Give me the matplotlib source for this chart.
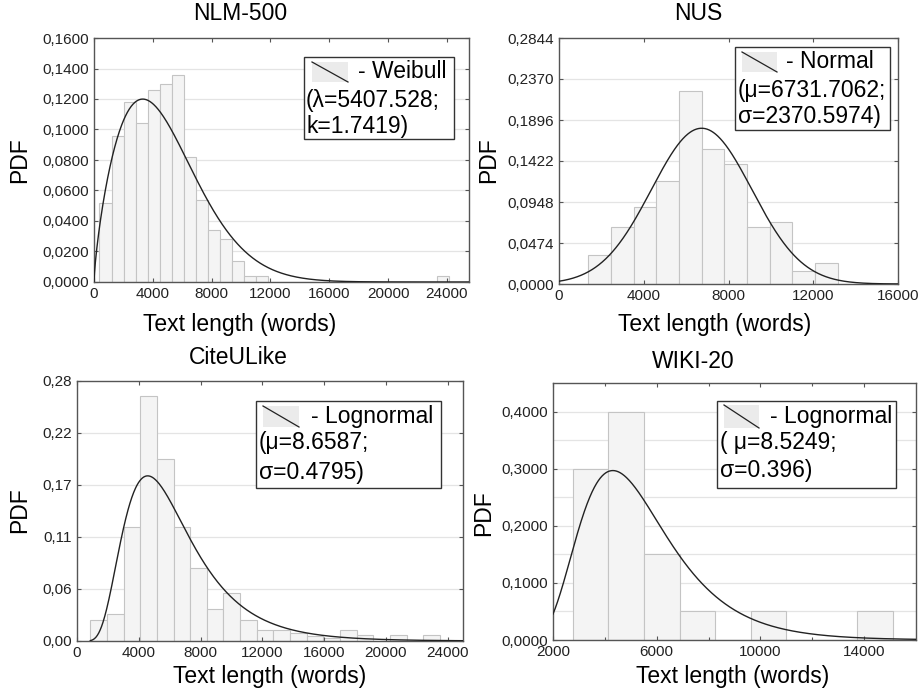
import matplotlib
matplotlib.use("Agg")
import matplotlib.pyplot as plt
from matplotlib.patches import Rectangle
from matplotlib.lines import Line2D
import numpy as np

plt.rcParams['font.family'] = ['Liberation Sans', 'DejaVu Sans']

# ---- data ----
# NLM-500 (Weibull fit), histogram heights per bin
nlm_bin_start = 371
nlm_bin_width = 820
nlm_heights = [0.052, 0.096, 0.118, 0.104, 0.126, 0.130, 0.136, 0.082, 0.054,
               0.034, 0.028, 0.014, 0.004, 0.004, 0, 0, 0, 0, 0, 0, 0, 0, 0,
               0, 0, 0, 0, 0, 0.004]
nlm_lambda = 5407.528
nlm_k = 1.7419

# NUS (Normal fit)
nus_bin_start = 1380
nus_bin_width = 1070
nus_heights = [0.0331, 0.0662, 0.0893, 0.1189, 0.2228, 0.1559, 0.1385,
               0.0662, 0.0716, 0.0146, 0.0239]
nus_mu = 6731.7062
nus_sigma = 2370.5974

# CiteULike (Lognormal fit)
cite_bin_start = 862
cite_bin_width = 1078
cite_heights = [0.0225, 0.0285, 0.121, 0.2588, 0.193, 0.121, 0.077, 0.0335,
                0.0504, 0.0222, 0.0116, 0.0116, 0.0085, 0.0056, 0.003, 0.0116,
                0.0063, 0.0, 0.006, 0.0, 0.0066]
cite_mu = 8.6587
cite_sigma = 0.4795

# WIKI-20 (Lognormal fit)
wiki_bin_start = 2766
wiki_bin_width = 1372
wiki_heights = [0.30, 0.40, 0.15, 0.05, 0.0, 0.05, 0.0, 0.0, 0.05]
wiki_mu = 8.5249
wiki_sigma = 0.396

nlm_yticks = [0.0, 0.02, 0.04, 0.06, 0.08, 0.10, 0.12, 0.14, 0.16]
nlm_ylabels = ["0,0000", "0,0200", "0,0400", "0,0600", "0,0800", "0,1000",
               "0,1200", "0,1400", "0,1600"]
nus_yticks = [0.0, 0.0474, 0.0948, 0.1422, 0.1896, 0.2370, 0.2844]
nus_ylabels = ["0,0000", "0,0474", "0,0948", "0,1422", "0,1896", "0,2370", "0,2844"]
cite_yticks = [0.0, 0.055, 0.11, 0.165, 0.22, 0.275]
cite_ylabels = ["0,00", "0,06", "0,11", "0,17", "0,22", "0,28"]
wiki_yticks = [0.0, 0.1, 0.2, 0.3, 0.4]
wiki_ylabels = ["0,0000", "0,1000", "0,2000", "0,3000", "0,4000"]

W, H = 922, 699
fig = plt.figure(figsize=(W / 100, H / 100), dpi=100)


def fx(x):
    return x / W


def fy(y):
    return 1 - y / H


def make_axes(l, t, r, b):
    return fig.add_axes([fx(l), fy(b), (r - l) / W, (b - t) / H])


def weibull_pdf(x, lam, k):
    return (k / lam) * (x / lam) ** (k - 1) * np.exp(-(x / lam) ** k)


def normal_pdf(x, mu, s):
    return np.exp(-0.5 * ((x - mu) / s) ** 2) / (s * np.sqrt(2 * np.pi))


def lognorm_pdf(x, mu, s):
    return np.exp(-0.5 * ((np.log(x) - mu) / s) ** 2) / (x * s * np.sqrt(2 * np.pi))


def style_axes(ax, xlim, ylim, xticks, yticks, ylabels, grid_y, xminor=None):
    ax.set_xlim(*xlim)
    ax.set_ylim(*ylim)
    ax.set_xticks(xticks)
    ax.set_xticklabels([str(t) for t in xticks])
    if xminor is not None:
        ax.set_xticks(xminor, minor=True)
    ax.set_yticks(yticks)
    ax.set_yticklabels(ylabels)
    for g in grid_y:
        ax.axhline(g, color='#e4e4e4', lw=0.9, zorder=0)
    for sp in ax.spines.values():
        sp.set_color('#555555')
        sp.set_linewidth(1.0)
    ax.tick_params(direction='in', length=3, width=0.8, colors='#555555',
                   labelcolor='#222222', labelsize=11, top=True, right=True)
    ax.tick_params(which='minor', direction='in', length=2, width=0.8,
                   colors='#555555', top=True)


def draw_hist(ax, start, width, heights):
    lefts = start + width * np.arange(len(heights))
    ax.bar(lefts, heights, width=width, align='edge', color='#f4f4f4',
           edgecolor='#c4c4c4', linewidth=0.8, zorder=1)


def draw_legend(box, swatch, name_xy, name, line_x, lines):
    l, t, r, b = box
    fig.patches.append(Rectangle((fx(l), fy(b)), (r - l) / W, (b - t) / H,
                                 transform=fig.transFigure, facecolor='white',
                                 edgecolor='#333333', lw=1.0, zorder=5))
    sl, st, sr, sb = swatch
    fig.patches.append(Rectangle((fx(sl), fy(sb)), (sr - sl) / W, (sb - st) / H,
                                 transform=fig.transFigure, facecolor='#ebebeb',
                                 edgecolor='none', zorder=6))
    fig.lines.append(Line2D([fx(sl), fx(sr)], [fy(st), fy(sb)],
                            transform=fig.transFigure, color='#222222',
                            lw=0.9, zorder=7))
    fig.text(fx(name_xy[0]), fy(name_xy[1]), name, fontsize=16.5,
             ha='left', va='center', zorder=8)
    for ly, txt in lines:
        fig.text(fx(line_x), fy(ly), txt, fontsize=16.5, ha='left',
                 va='center', zorder=8)


# ---- NLM-500 ----
ax1 = make_axes(94, 38, 469, 282)
draw_hist(ax1, nlm_bin_start, nlm_bin_width, nlm_heights)
x = np.linspace(1, 25500, 800)
ax1.plot(x, weibull_pdf(x, nlm_lambda, nlm_k) * nlm_bin_width, color='#222222',
         lw=1.0, zorder=3)
style_axes(ax1, (0, 25500), (0, 0.16), [0, 4000, 8000, 12000, 16000, 20000, 24000],
           nlm_yticks, nlm_ylabels, nlm_yticks[1:-1])

# ---- NUS ----
ax2 = make_axes(559, 38, 898, 284)
draw_hist(ax2, nus_bin_start, nus_bin_width, nus_heights)
x = np.linspace(0, 16000, 800)
ax2.plot(x, normal_pdf(x, nus_mu, nus_sigma) * nus_bin_width, color='#222222',
         lw=1.0, zorder=3)
style_axes(ax2, (0, 16000), (0, 0.2844), [0, 4000, 8000, 12000, 16000],
           nus_yticks, nus_ylabels, nus_yticks[1:-1])

# ---- CiteULike ----
ax3 = make_axes(77, 381, 463, 641)
draw_hist(ax3, cite_bin_start, cite_bin_width, cite_heights)
x = np.linspace(cite_bin_start, 25000, 800)
ax3.plot(x, lognorm_pdf(x, cite_mu, cite_sigma) * cite_bin_width, color='#222222',
         lw=1.0, zorder=3)
style_axes(ax3, (0, 25000), (0, 0.275), [0, 4000, 8000, 12000, 16000, 20000, 24000],
           cite_yticks, cite_ylabels, cite_yticks[1:-1])

# ---- WIKI-20 ----
ax4 = make_axes(553, 383, 916, 640)
draw_hist(ax4, wiki_bin_start, wiki_bin_width, wiki_heights)
x = np.linspace(2000, 16000, 800)
ax4.plot(x, lognorm_pdf(x, wiki_mu, wiki_sigma) * wiki_bin_width, color='#222222',
         lw=1.0, zorder=3)
style_axes(ax4, (2000, 16000), (0, 0.45), [2000, 6000, 10000, 14000],
           wiki_yticks, wiki_ylabels, [0.05, 0.1, 0.15, 0.2, 0.25, 0.3, 0.35, 0.4],
           xminor=[4000, 8000, 12000])

# ---- titles and axis labels ----
for (cx, cy), t in zip([(240, 14), (698, 14), (238, 358), (693, 361)],
                       ["NLM-500", "NUS", "CiteULike", "WIKI-20"]):
    fig.text(fx(cx), fy(cy), t, fontsize=16.5, ha='center', va='center')
for cx, cy in [(240, 324), (715, 324), (270, 676), (733, 676)]:
    fig.text(fx(cx), fy(cy), "Text length (words)", fontsize=16.5,
             ha='center', va='center')
for cx, cy in [(20, 160), (489, 160), (20, 510), (484, 513)]:
    fig.text(fx(cx), fy(cy), "PDF", fontsize=16.5, rotation=90,
             ha='center', va='center')

# ---- legends ----
draw_legend((304, 57, 454, 139), (312, 62, 348, 82), (358, 72), "- Weibull",
            306, [(100, "(λ=5407.528;"), (127, "k=1.7419)")])
draw_legend((735, 47, 890, 130), (742, 52, 777, 72), (786, 62), "- Normal",
            738, [(90, "(μ=6731.7062;"), (117, "σ=2370.5974)")])
draw_legend((256, 401, 441, 488), (263, 406, 299, 427), (311, 417), "- Lognormal",
            259, [(443, "(μ=8.6587;"), (472, "σ=0.4795)")])
draw_legend((717, 401, 896, 488), (724, 405, 759, 428), (770, 417), "- Lognormal",
            720, [(443, "( μ=8.5249;"), (470, "σ=0.396)")])

fig.savefig("out.png", dpi=100)
